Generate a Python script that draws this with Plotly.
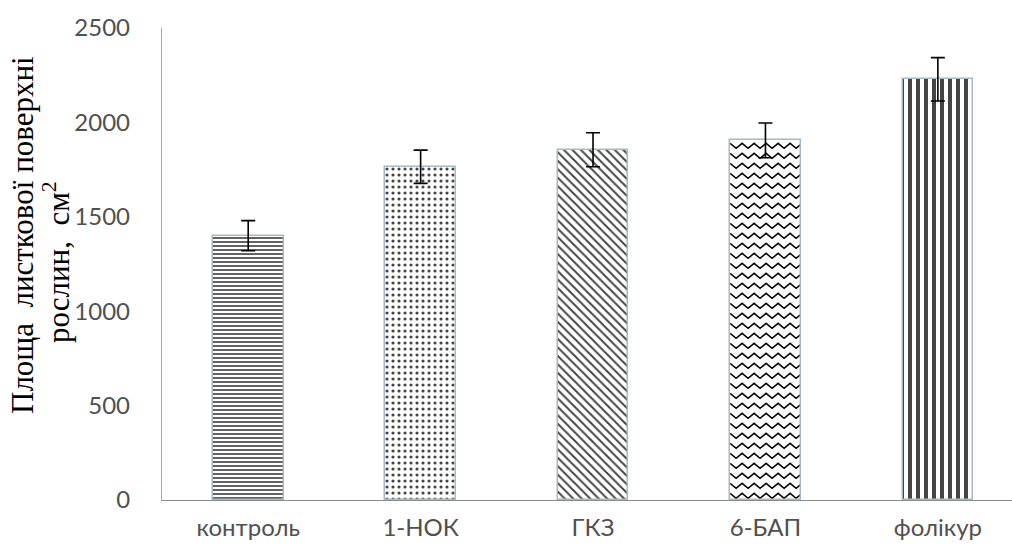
import base64
import plotly.graph_objects as go

# Leaf surface area by treatment
categories = ["контроль", "1-НОК", "ГКЗ", "6-БАП", "фолікур"]
area = [1400, 1765, 1855, 1905, 2228]
area_err = [80, 88, 90, 92, 115]
y_ticks = [0, 500, 1000, 1500, 2000, 2500]

# fill pattern per bar ("" = drawn separately as a zigzag image)
pattern_shapes = ["-", ".", "\\", "", "|"]
pattern_sizes = [4, 6, 6, 8, 8]
pattern_solidity = [0.42, 0.22, 0.32, 0.3, 0.5]

W, H = 1012, 546
M_L, M_R, M_T, M_B = 162, 0, 28, 46
X_RANGE = [-0.5, 4.43]
Y_RANGE = [0, 2500]
BAR_W = 0.41

plot_w = W - M_L - M_R
plot_h = H - M_T - M_B
px_per_x = plot_w / (X_RANGE[1] - X_RANGE[0])
px_per_y = plot_h / (Y_RANGE[1] - Y_RANGE[0])

x_idx = list(range(len(categories)))
zig_i = pattern_shapes.index("")

bar_colors = ["white" if s else "rgba(255,255,255,0)" for s in pattern_shapes]

fig = go.Figure()
fig.add_trace(go.Bar(
    x=x_idx,
    y=area,
    width=BAR_W,
    marker=dict(
        color=bar_colors,
        line=dict(color="#a7b9c8", width=1.5),
        pattern=dict(
            shape=pattern_shapes,
            size=pattern_sizes,
            solidity=pattern_solidity,
            fgcolor="black",
            fgopacity=1,
        ),
    ),
    error_y=dict(type="data", array=area_err, color="black", thickness=1.6, width=7),
    showlegend=False,
))


def zigzag_svg(w_px, h_px, period=12.0, amp=5.0, row_gap=10.0, lw=1.5):
    """Zigzag line fill sized to the bar in pixels."""
    paths = []
    y = 3.0
    while y < h_px + row_gap:
        pts = []
        x = 0.0
        k = 0
        while x <= w_px + period:
            yy = y + (amp if k % 2 else 0.0)
            pts.append(f"{x:.2f},{yy:.2f}")
            x += period / 2
            k += 1
        paths.append('<polyline points="' + " ".join(pts) +
                     f'" fill="none" stroke="black" stroke-width="{lw}"/>')
        y += row_gap
    svg = (f'<svg xmlns="http://www.w3.org/2000/svg" width="{w_px:.2f}" height="{h_px:.2f}" '
           f'viewBox="0 0 {w_px:.2f} {h_px:.2f}" preserveAspectRatio="none">'
           f'<rect width="100%" height="100%" fill="white"/>' + "".join(paths) + "</svg>")
    return "data:image/svg+xml;base64," + base64.b64encode(svg.encode()).decode()


zig_w = BAR_W * px_per_x
zig_h = area[zig_i] * px_per_y
fig.add_layout_image(dict(
    source=zigzag_svg(zig_w, zig_h),
    xref="x", yref="y",
    x=x_idx[zig_i] - BAR_W / 2, y=area[zig_i],
    sizex=BAR_W, sizey=area[zig_i],
    xanchor="left", yanchor="top",
    sizing="stretch", layer="below",
))

tick_font = dict(family="Lato, Open Sans, sans-serif", size=24, color="#505050")
title_font = dict(family="Liberation Serif, Times New Roman, serif", size=31, color="black")


def px_to_paper(px, py):
    return (px - M_L) / plot_w, (H - M_B - py) / plot_h


# rotated two-line axis title
for text, (cx, cy) in [
    ("Площа  листкової поверхні", (22, 235)),
    ("рослин,  см<sup>2</sup>", (56, 262)),
]:
    ax_x, ax_y = px_to_paper(cx, cy)
    fig.add_annotation(
        text=text, xref="paper", yref="paper", x=ax_x, y=ax_y,
        xanchor="center", yanchor="middle", textangle=-90,
        showarrow=False, font=title_font,
    )

fig.update_layout(
    width=W, height=H,
    margin=dict(l=M_L, r=M_R, t=M_T, b=M_B),
    paper_bgcolor="white",
    plot_bgcolor="white",
    bargap=0,
)
fig.update_xaxes(
    range=X_RANGE,
    tickmode="array", tickvals=x_idx, ticktext=categories,
    tickfont=tick_font,
    showgrid=False, zeroline=False,
    showline=True, linecolor="#8c8c8c", linewidth=1.3,
    ticks="", ticklabelstandoff=6,
)
fig.update_yaxes(
    range=Y_RANGE,
    tickmode="array", tickvals=y_ticks,
    tickfont=tick_font,
    showgrid=False, zeroline=False,
    showline=True, linecolor="#a6a6a6", linewidth=1.3,
    ticks="", ticklabelstandoff=26,
)

fig.write_html("out.html")
